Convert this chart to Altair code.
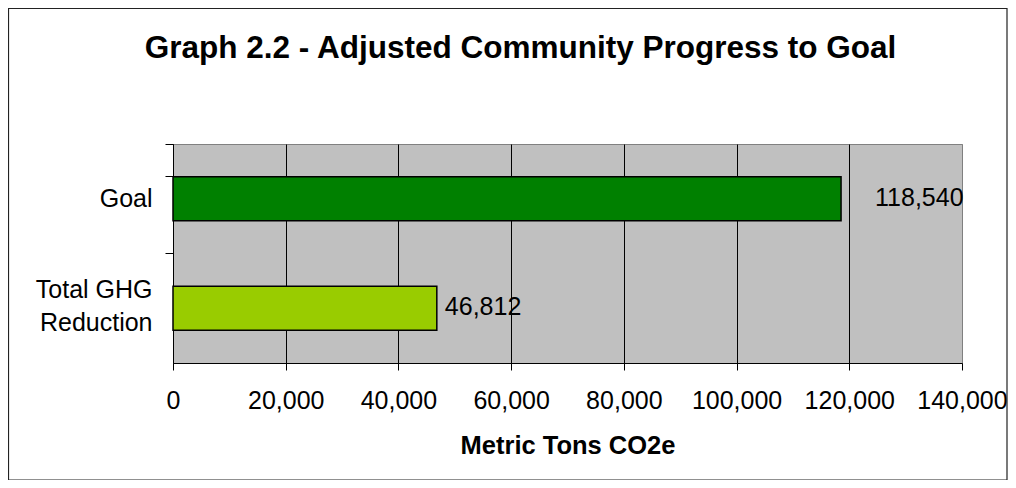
import altair as alt
import pandas as pd

categories = ["Goal", "Total GHG Reduction"]
values = [118540, 46812]
x_ticks = [0, 20000, 40000, 60000, 80000, 100000, 120000, 140000]
title_text = "Graph 2.2 - Adjusted Community Progress to Goal"
x_title = "Metric Tons CO2e"

df = pd.DataFrame({"category": categories, "value": values})

FONT = "Liberation Sans"
W, H = 789, 219

y_axis = alt.Axis(
    title=None,
    labelFont=FONT,
    labelFontSize=25,
    labelColor="black",
    labelPadding=13,
    labelLineHeight=33,
    labelExpr="datum.label == 'Total GHG Reduction' ? ['Total GHG', 'Reduction'] : datum.label",
    labelOffset={"condition": {"test": "datum.value == 'Total GHG Reduction'", "value": -18}, "value": 0},
    tickSize=8,
    tickColor="black",
    domainColor="black",
    bandPosition=-0.75,
    tickExtra=True,
    grid=False,
)

y_enc = alt.Y(
    "category:N",
    sort=categories,
    scale=alt.Scale(paddingInner=0.6, paddingOuter=0.3),
    axis=y_axis,
)

x_axis = alt.Axis(
    title=x_title,
    titleFont=FONT,
    titleFontSize=25.5,
    titleFontWeight="bold",
    titleColor="black",
    titlePadding=20,
    values=x_ticks,
    labelExpr="format(datum.value, ',')",
    labelOverlap=False,
    labelFlush=False,
    labelFont=FONT,
    labelFontSize=25,
    labelColor="black",
    labelPadding=18,
    tickSize=7,
    tickColor="black",
    domainColor="black",
    grid=True,
    gridColor={"condition": {"test": "datum.value === 140000", "value": "#808080"}, "value": "black"},
    gridWidth=1,
    gridOpacity=1,
)

x_enc = alt.X(
    "value:Q",
    scale=alt.Scale(domain=[0, 140000], nice=False, zero=True),
    axis=x_axis,
)

base = alt.Chart(df)

bars = base.mark_bar(stroke="black", strokeWidth=1.5).encode(
    x=x_enc,
    y=y_enc,
    color=alt.Color(
        "category:N",
        scale=alt.Scale(domain=categories, range=["#008000", "#99CC00"]),
        legend=None,
    ),
)

label_goal = base.transform_filter(alt.datum.category == "Goal").mark_text(
    align="left", baseline="alphabetic", dx=34, dy=7, font=FONT, fontSize=25, color="black"
).encode(
    x=x_enc,
    y=y_enc,
    text=alt.Text("value:Q", format=","),
)

label_red = base.transform_filter(alt.datum.category != "Goal").mark_text(
    align="left", baseline="alphabetic", dx=8, dy=7, font=FONT, fontSize=25, color="black"
).encode(
    x=x_enc,
    y=y_enc,
    text=alt.Text("value:Q", format=","),
)

border = alt.Chart(pd.DataFrame({"k": [0]})).mark_rect(
    fillOpacity=0, stroke="#222222", strokeWidth=1.2
).encode(
    x=alt.value(-164.5),
    x2=alt.value(834),
    y=alt.value(-135.5),
    y2=alt.value(336),
)

chart = alt.layer(bars, label_goal, label_red, border).properties(
    width=W,
    height=H,
    autosize=alt.AutoSizeParams(type="none"),
    padding={"left": 165, "top": 136, "right": 46, "bottom": 117},
    title=alt.TitleParams(
        text=title_text,
        font=FONT,
        fontSize=31.5,
        fontWeight="bold",
        color="black",
        anchor="middle",
        frame="group",
        dx=-47,
        offset=-81.5,
        baseline="alphabetic",
    ),
    background="white",
).configure_view(
    fill="#C0C0C0", stroke="#808080", strokeWidth=1
)

chart.save("out.html", embed_options={"renderer": "svg", "actions": False})
